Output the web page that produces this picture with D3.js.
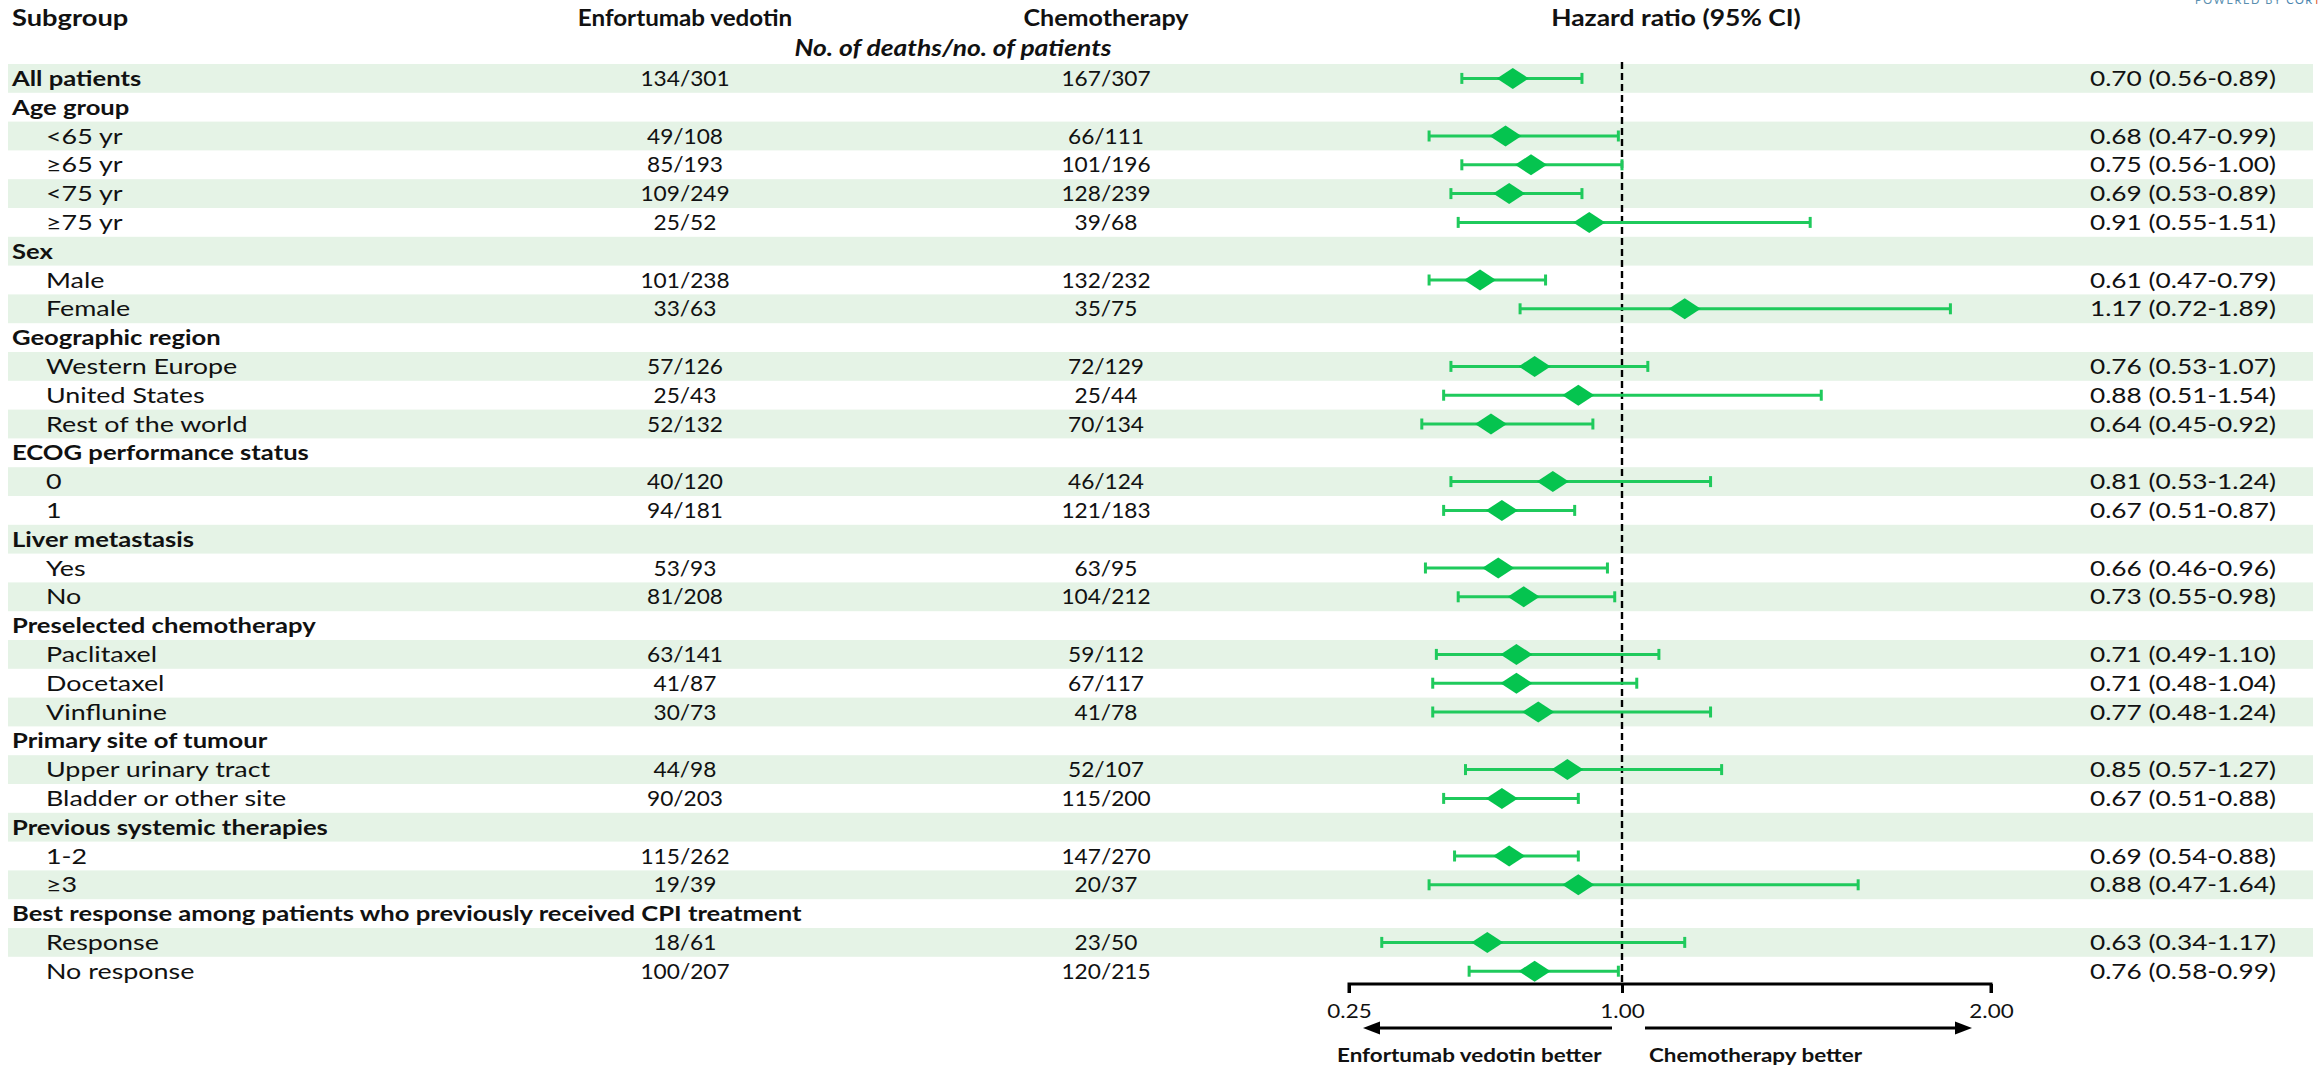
<!DOCTYPE html>
<html>
<head>
<meta charset="utf-8">
<script src="https://cdn.jsdelivr.net/npm/d3@7"></script>
<style>
  html, body { margin: 0; padding: 0; background: #ffffff; }
  svg { display: block; }
</style>
</head>
<body>
<script>
// ---- data -------------------------------------------------------------
const subgroupLabels = [
  "All patients", "Age group", "<65 yr", "\u226565 yr", "<75 yr", "\u226575 yr",
  "Sex", "Male", "Female",
  "Geographic region", "Western Europe", "United States", "Rest of the world",
  "ECOG performance status", "0", "1",
  "Liver metastasis", "Yes", "No",
  "Preselected chemotherapy", "Paclitaxel", "Docetaxel", "Vinflunine",
  "Primary site of tumour", "Upper urinary tract", "Bladder or other site",
  "Previous systemic therapies", "1-2", "\u22653",
  "Best response among patients who previously received CPI treatment", "Response", "No response"
];
// 0 = heading row (bold, flush left), 1 = indented subgroup row
const rowLevel = [0,0,1,1,1,1, 0,1,1, 0,1,1,1, 0,1,1, 0,1,1, 0,1,1,1, 0,1,1, 0,1,1, 0,1,1];

const evDeaths = [
  "134/301", null, "49/108", "85/193", "109/249", "25/52",
  null, "101/238", "33/63",
  null, "57/126", "25/43", "52/132",
  null, "40/120", "94/181",
  null, "53/93", "81/208",
  null, "63/141", "41/87", "30/73",
  null, "44/98", "90/203",
  null, "115/262", "19/39",
  null, "18/61", "100/207"
];
const chemoDeaths = [
  "167/307", null, "66/111", "101/196", "128/239", "39/68",
  null, "132/232", "35/75",
  null, "72/129", "25/44", "70/134",
  null, "46/124", "121/183",
  null, "63/95", "104/212",
  null, "59/112", "67/117", "41/78",
  null, "52/107", "115/200",
  null, "147/270", "20/37",
  null, "23/50", "120/215"
];
const hazardRatio = [
  0.70, null, 0.68, 0.75, 0.69, 0.91,
  null, 0.61, 1.17,
  null, 0.76, 0.88, 0.64,
  null, 0.81, 0.67,
  null, 0.66, 0.73,
  null, 0.71, 0.71, 0.77,
  null, 0.85, 0.67,
  null, 0.69, 0.88,
  null, 0.63, 0.76
];
const ciLower = [
  0.56, null, 0.47, 0.56, 0.53, 0.55,
  null, 0.47, 0.72,
  null, 0.53, 0.51, 0.45,
  null, 0.53, 0.51,
  null, 0.46, 0.55,
  null, 0.49, 0.48, 0.48,
  null, 0.57, 0.51,
  null, 0.54, 0.47,
  null, 0.34, 0.58
];
const ciUpper = [
  0.89, null, 0.99, 1.00, 0.89, 1.51,
  null, 0.79, 1.89,
  null, 1.07, 1.54, 0.92,
  null, 1.24, 0.87,
  null, 0.96, 0.98,
  null, 1.10, 1.04, 1.24,
  null, 1.27, 0.88,
  null, 0.88, 1.64,
  null, 1.17, 0.99
];
const axisTicks = [0.25, 1.00, 2.00];
const nullValue = 1.00;

// ---- layout -----------------------------------------------------------
const W = 2321, H = 1065;
const FONT = "Lato, 'Open Sans', sans-serif";
const GREEN = "#05c44f";
const LINE_GREEN = "#1fca5c";
const BAND = "#e5f3e6";

const rows = d3.range(subgroupLabels.length);
const y = d3.scaleBand().domain(rows).range([64, 64 + 28.8 * rows.length]).paddingInner(0);
const x = d3.scaleLinear().domain([0.25, 1.00, 2.00]).range([1349, 1622, 1991]);

const colLabelX = 12, colIndentX = 46;
const colEV = 685, colChemo = 1106, colHRText = 2276;
const axisY = 984;

const svg = d3.select("body").append("svg")
  .attr("width", W).attr("height", H)
  .attr("viewBox", `0 0 ${W} ${H}`);

// text helper: glyphs are widened with a horizontal scale
function txt(g, str, px, py, opts = {}) {
  const sx = opts.sx || 1.16;
  return g.append("text")
    .attr("transform", `translate(${px},${py}) scale(${sx},1)`)
    .attr("text-anchor", opts.anchor || "start")
    .attr("font-family", FONT)
    .attr("font-size", opts.size || 21)
    .attr("font-weight", opts.bold ? 700 : 400)
    .attr("font-style", opts.italic ? "italic" : "normal")
    .attr("fill", opts.fill || "#111")
    .text(str);
}

// alternating row bands
svg.append("g").selectAll("rect")
  .data(rows.filter(i => i % 2 === 0))
  .join("rect")
  .attr("x", 8).attr("width", 2313 - 8)
  .attr("y", i => y(i)).attr("height", y.bandwidth())
  .attr("fill", BAND);

// column headers
const head = svg.append("g");
txt(head, "Subgroup", colLabelX, 26, { bold: true, size: 22, sx: 1.24 });
txt(head, "Enfortumab vedotin", colEV, 26, { bold: true, size: 22, sx: 1.1, anchor: "middle" });
txt(head, "Chemotherapy", colChemo, 26, { bold: true, size: 22, sx: 1.14, anchor: "middle" });
txt(head, "Hazard ratio (95% CI)", 1676, 26, { bold: true, size: 22, sx: 1.2, anchor: "middle" });
txt(head, "No. of deaths/no. of patients", 953, 56, { bold: true, italic: true, size: 22, sx: 1.2, anchor: "middle" });

// table text
const table = svg.append("g");
rows.forEach(i => {
  const base = y(i) + y.bandwidth() / 2 + 7.5;
  const isHead = rowLevel[i] === 0;
  txt(table, subgroupLabels[i], isHead ? colLabelX : colIndentX, base, { bold: isHead, sx: isHead ? 1.22 : 1.28 });
  if (evDeaths[i]) txt(table, evDeaths[i], colEV, base, { anchor: "middle", sx: 1.08 });
  if (chemoDeaths[i]) txt(table, chemoDeaths[i], colChemo, base, { anchor: "middle", sx: 1.08 });
  if (hazardRatio[i] != null) {
    const s = `${hazardRatio[i].toFixed(2)} (${ciLower[i].toFixed(2)}-${ciUpper[i].toFixed(2)})`;
    txt(table, s, colHRText, base, { anchor: "end", sx: 1.25 });
  }
});

// reference line at HR = 1
svg.append("line")
  .attr("x1", x(nullValue)).attr("x2", x(nullValue))
  .attr("y1", 62).attr("y2", axisY)
  .attr("stroke", "#000").attr("stroke-width", 2.4)
  .attr("stroke-dasharray", "7,4");

// confidence intervals and point estimates
const est = rows.filter(i => hazardRatio[i] != null);
const marks = svg.append("g");
const cy = i => y(i) + y.bandwidth() / 2;
marks.selectAll("line.ci").data(est).join("line")
  .attr("class", "ci")
  .attr("x1", i => x(ciLower[i])).attr("x2", i => x(ciUpper[i]))
  .attr("y1", cy).attr("y2", cy)
  .attr("stroke", LINE_GREEN).attr("stroke-width", 3);
["lo", "hi"].forEach(k => {
  marks.selectAll(`line.cap-${k}`).data(est).join("line")
    .attr("class", `cap-${k}`)
    .attr("x1", i => x(k === "lo" ? ciLower[i] : ciUpper[i]))
    .attr("x2", i => x(k === "lo" ? ciLower[i] : ciUpper[i]))
    .attr("y1", i => cy(i) - 5.5).attr("y2", i => cy(i) + 5.5)
    .attr("stroke", LINE_GREEN).attr("stroke-width", 3);
});
marks.selectAll("path.est").data(est).join("path")
  .attr("class", "est")
  .attr("d", i => {
    const px = x(hazardRatio[i]), py = cy(i);
    return `M${px - 16},${py}L${px},${py - 10.5}L${px + 16},${py}L${px},${py + 10.5}Z`;
  })
  .attr("fill", GREEN);

// x axis
const axis = d3.axisBottom(x).tickValues(axisTicks).tickSize(9).tickFormat(d3.format(".2f"));
const ax = svg.append("g").attr("transform", `translate(0,${axisY})`).call(axis);
ax.select(".domain").attr("stroke", "#000").attr("stroke-width", 3)
  .attr("d", `M${x(0.25)},9V0H${x(2)}V9`);
ax.selectAll(".tick line").attr("stroke", "#000").attr("stroke-width", 3);
ax.selectAll(".tick text")
  .attr("font-family", FONT).attr("font-size", 19).attr("fill", "#111")
  .attr("y", 0).attr("dy", 0)
  .attr("transform", `translate(0,34) scale(1.18,1)`);

// direction arrows
const arrowY = 1028;
const arr = svg.append("g");
arr.append("line").attr("x1", 1612).attr("x2", x(0.25) + 30).attr("y1", arrowY).attr("y2", arrowY)
  .attr("stroke", "#000").attr("stroke-width", 3);
arr.append("path").attr("d", `M${x(0.25) + 14},${arrowY}l17,-6.5v13z`).attr("fill", "#000");
arr.append("line").attr("x1", 1645).attr("x2", x(2) - 36).attr("y1", arrowY).attr("y2", arrowY)
  .attr("stroke", "#000").attr("stroke-width", 3);
arr.append("path").attr("d", `M${x(2) - 19},${arrowY}l-17,-6.5v13z`).attr("fill", "#000");
txt(arr, "Enfortumab vedotin better", 1337, 1062, { bold: true, size: 19, sx: 1.18 });
txt(arr, "Chemotherapy better", 1649, 1062, { bold: true, size: 19, sx: 1.18 });

// credit line, running off the top edge
const credit = svg.append("text")
  .attr("x", 2195).attr("y", 4)
  .attr("font-family", FONT).attr("font-size", 11).attr("letter-spacing", 1.6);
credit.append("tspan").attr("fill", "#5a8fb0").text("POWERED BY ");
credit.append("tspan").attr("fill", "#4a86b0").text("COR");
credit.append("tspan").attr("fill", "#e0603a").text("TEX");
</script>
</body>
</html>
